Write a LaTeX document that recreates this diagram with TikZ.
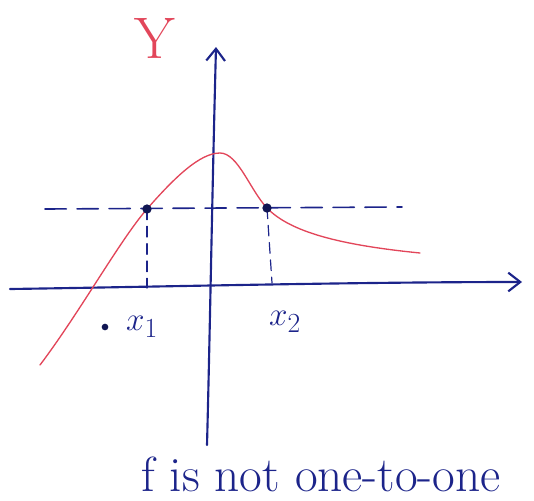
\documentclass[tikz,border=0pt]{standalone}
\usetikzlibrary{arrows.meta}
\definecolor{inkblue}{RGB}{28,36,138}
\definecolor{inkred}{RGB}{226,70,90}
\begin{document}
\begin{tikzpicture}[x=0.75pt, y=-0.75pt, line join=round, line cap=round, >={Straight Barb[length=9pt,width=14pt]}]
            \useasboundingbox (0,0) rectangle (534,500);
            \path
            (10,289) coordinate (W)
            (522,282) coordinate (E)
            (207,445) coordinate (S)
            (216,47) coordinate (N)
            (45,209) coordinate (L)
            (402,207) coordinate (R)
            (147,209) coordinate (P)
            (267,208) coordinate (Q)
            (147,288) coordinate (P')
            (272,283) coordinate (Q')
            (40,365) coordinate (A)
            (220,153) coordinate (M)
            (420,253) coordinate (B)
            ;
            % axes
            \draw[inkblue, line width=1.6pt, ->] (W) .. controls (150,287) and (350,282) .. (E);
            \draw[inkblue, line width=1.6pt, ->] (S) .. controls (210,330) and (212,200) .. (N);
            % level line and drops
            \draw[inkblue, line width=1.2pt, dash pattern=on 16pt off 8pt] (L)--(R);
            \draw[inkblue, line width=0.9pt, dash pattern=on 8pt off 5pt] (P)--(P');
            \draw[inkblue, line width=0.9pt, dash pattern=on 8pt off 5pt] (Q)--(Q');
            % graph of f
            \draw[inkred, line width=1pt] (A) .. controls (80,312) and (120,240) .. (P)
                .. controls (175,177) and (200,153) .. (M)
                .. controls (238,153) and (250,190) .. (Q)
                .. controls (290,232) and (340,245) .. (B);
            
            \foreach \i in {P, Q}{
                \draw[fill=inkblue!60!black, draw=none] (\i) circle(3.5pt);
            }
            \fill[inkblue!60!black] (105,327) coordinate (D) circle(2.5pt);
            \node[inkred, font=\fontsize{44}{44}\selectfont] (ylab) at (155,38) {Y};
            \node[inkblue, font=\fontsize{28}{28}\selectfont] (x1lab) at (142,327) {$x_1$};
            \node[inkblue, font=\fontsize{28}{28}\selectfont] (x2lab) at (285,322) {$x_2$};
            \node[inkblue, inner sep=0pt, font=\fontsize{37}{37}\selectfont] (caption) at (321,474) {f is not one-to-one};
        \end{tikzpicture}
\end{document}
